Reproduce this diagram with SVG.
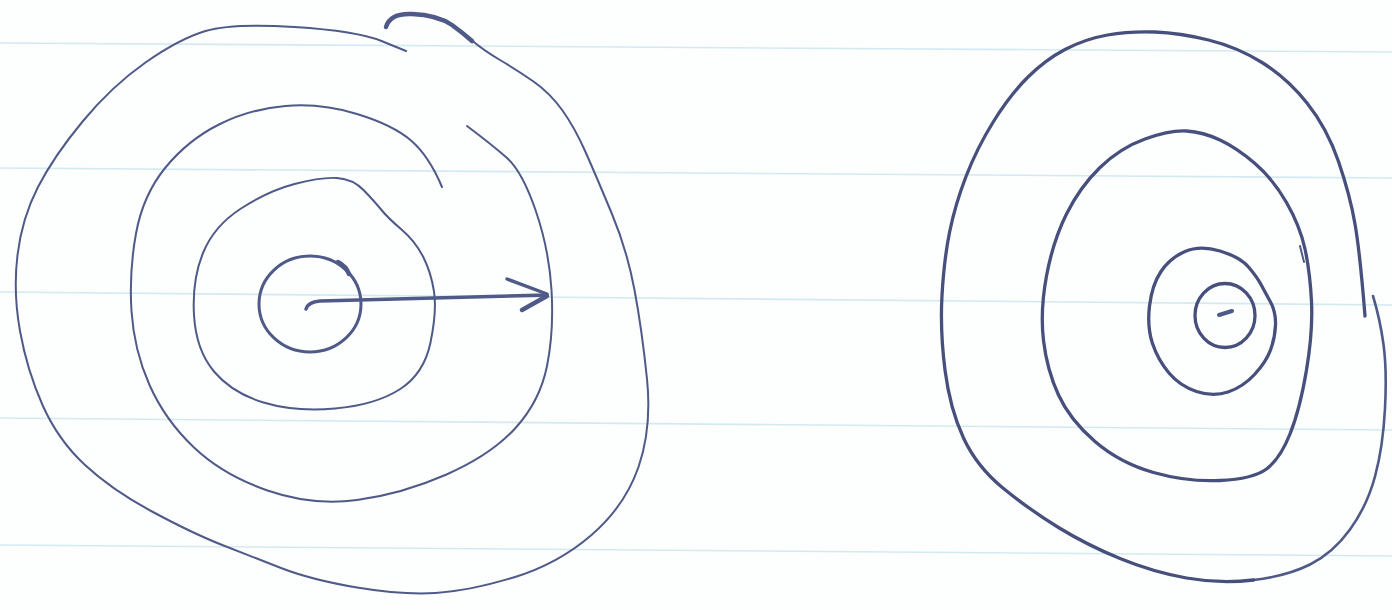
<svg xmlns="http://www.w3.org/2000/svg" width="1392" height="610" viewBox="0 0 1392 610">
<style>
.rule{stroke:#d3eaf0;stroke-width:1.6;fill:none}
.ink{fill:none;stroke:#4f5a88;stroke-linecap:round;stroke-linejoin:round}
.thin{stroke-width:2}
.mid{stroke-width:2.6}
.bold{stroke-width:3.3;stroke:#47507c}
</style>
<rect width="1392" height="610" fill="#fdfefe"/>
<g id="paper-lines">
<line class="rule" x1="0" y1="43" x2="1392" y2="52"/>
<line class="rule" x1="0" y1="168" x2="1392" y2="178"/>
<line class="rule" x1="0" y1="292" x2="1392" y2="305"/>
<line class="rule" x1="0" y1="418" x2="1392" y2="430"/>
<line class="rule" x1="0" y1="545" x2="1392" y2="556"/>
</g>
<g id="left-rings">
<path class="ink thin" d="M406,51 L381.5,41 Q357,31 294.5,27 Q232,23 205.5,31 Q179,39 145.5,62.5 Q112,86 83,121 Q54,156 38,187 Q22,218 17.5,255 Q13,292 20,331 Q27,370 42.5,405 Q58,440 85,465 Q112,490 152,511.5 Q192,533 221,544.5 Q250,556 281,568 Q312,580 357,587.5 Q402,595 435.5,593 Q469,591 513.5,577.5 Q558,564 591.5,535 Q625,506 638.5,467 Q652,428 647,379 Q642,330 634.5,290 Q627,250 612,214 Q597,178 586,153 Q575,128 562.5,110.5 Q550,93 533.5,81.5 Q517,70 500,60 Q483,50 471.5,40 Q460,30 448.5,23.5 Q437,15 412,14 Q390,13 386,27"/>
<path class="ink" stroke-width="4.5" d="M386,27 Q390,13 412,14 Q437,15 452,25 Q463,33 472,41"/>
<path class="ink thin" d="M442,187 Q429,156 411,140.5 Q393,125 357,114 Q321,103 285.5,106 Q250,109 219,124.5 Q188,140 165.5,167.5 Q143,195 136,233.5 Q129,272 131.5,311 Q134,350 149.5,385 Q165,420 194,447.5 Q223,475 267.5,490.5 Q312,506 357,500 Q402,494 446.5,474.5 Q491,455 515.5,428 Q540,401 547,366 Q554,331 551.5,290 Q549,249 535.5,210 Q522,171 506.5,157.5 Q491,144 467,126"/>
<path class="ink thin" d="M337,178 Q321,177 294.5,184 Q268,191 241,208.5 Q214,226 203,253 Q192,280 194,315 Q196,350 214,371.5 Q232,393 263.5,402.5 Q295,412 335,408.5 Q375,405 399.5,389.5 Q424,374 430.5,342.5 Q437,311 434,291.5 Q431,272 423,256.5 Q415,241 401.5,229.5 Q388,218 381.5,210 Q375,202 364,190.5 Q353,179 337,178 Z"/>
<ellipse class="ink" stroke-width="3" cx="310" cy="304" rx="51" ry="48"/>
<path class="ink" stroke-width="4.5" d="M338,262 Q346,266 349,274"/>
</g>
<g id="connectors">
<path class="ink" stroke-width="3.4" stroke="#48527f" d="M306,309 Q308,302 320,301 L547,295"/>
<path class="ink" stroke-width="3.4" stroke="#48527f" d="M507,279 L547,294"/>
<path class="ink" stroke-width="4.5" stroke="#48527f" d="M547,296 L522,310"/>
</g>
<g id="right-rings">
<path class="ink mid" d="M1373,296 Q1380,319 1383.5,344.5 Q1387,370 1385,408.5 Q1383,447 1375,476.5 Q1367,506 1350,529.5 Q1333,553 1310,564.5 Q1287,576 1253.5,580"/>
<path class="ink bold" d="M1253.5,580 Q1220,584 1186.5,578 Q1153,572 1120,558.5 Q1087,545 1058.5,527.5 Q1030,510 1003.5,488.5 Q977,467 963.5,438 Q950,409 945,370 Q940,331 942,295.5 Q944,260 949.5,232.5 Q955,205 966,176.5 Q977,148 993.5,121.5 Q1010,95 1027.5,77.5 Q1045,60 1065,49.5 Q1085,39 1107.5,35 Q1130,31 1155,32 Q1180,33 1208.5,40 Q1237,47 1262,62.5 Q1287,78 1307,103 Q1327,128 1338.5,161.5 Q1350,195 1355,224 Q1360,253 1365,316"/>
<path class="ink bold" d="M1186.5,131 Q1170,130 1145,139 Q1120,148 1100,167.5 Q1080,187 1066.5,214 Q1053,241 1046.5,276 Q1040,311 1043.5,340.5 Q1047,370 1058.5,395 Q1070,420 1095,441.5 Q1120,463 1153.5,472.5 Q1187,482 1220,480.5 Q1253,479 1266.5,469 Q1280,459 1290,434 Q1300,409 1306.5,370 Q1313,331 1311.5,301.5 Q1310,272 1305,249 Q1300,226 1286.5,202.5 Q1273,179 1255,163.5 Q1237,148 1220,140 Q1203,132 1186.5,131 Z"/>
<path class="ink" stroke-width="2" d="M1300,246 L1304,262"/>
<path class="ink bold" d="M1220,251 Q1240,257 1248.5,267 Q1257,277 1261,284.5 Q1265,292 1270.5,302 Q1276,312 1275.5,325 Q1275,338 1270.5,350 Q1266,362 1254.5,374.5 Q1243,387 1228,392 Q1213,397 1196.5,391.5 Q1180,386 1169,373 Q1158,360 1152.5,343.5 Q1147,327 1149.5,306 Q1152,285 1161,271.5 Q1170,258 1185,251.5 Q1200,245 1220,251 Z"/>
<ellipse class="ink bold" cx="1225" cy="315.5" rx="30" ry="32"/>
<path class="ink" stroke-width="4" d="M1219,315 L1232,311"/>
</g>
</svg>
